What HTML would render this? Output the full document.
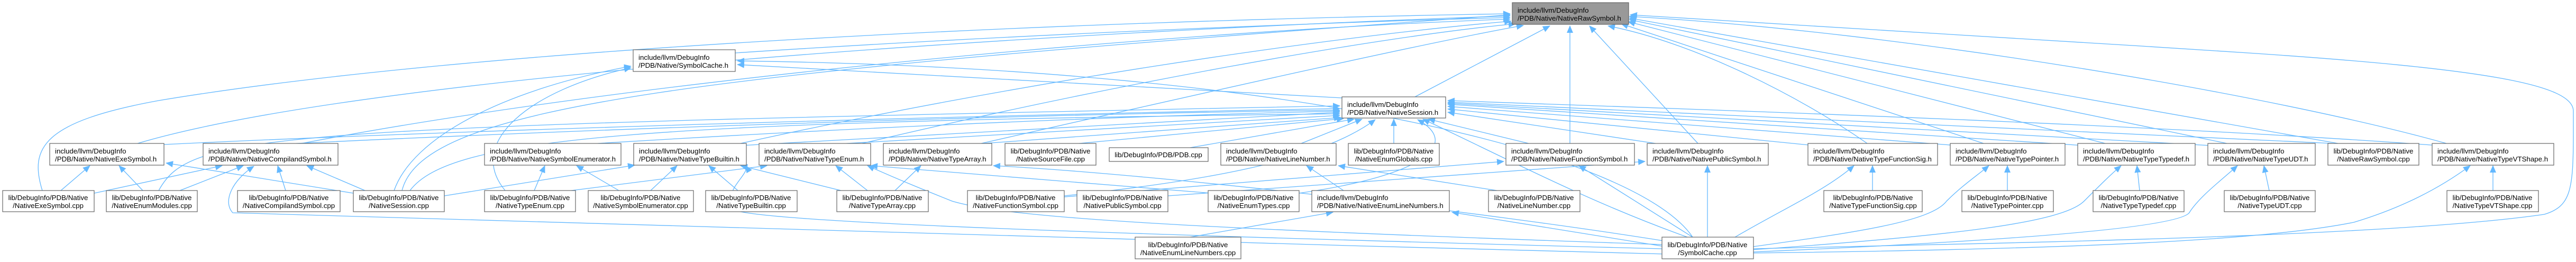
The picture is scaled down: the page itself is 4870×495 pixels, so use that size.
<!DOCTYPE html>
<html><head><meta charset="utf-8"><style>
html,body{margin:0;padding:0;background:#fff;}
svg{display:block;}
text{font-family:"Liberation Sans",Arial,sans-serif;font-size:13.3px;fill:#000;}
.n rect{fill:#fff;stroke:#666;stroke-width:1.2;}
.e{fill:none;stroke:#63b8ff;stroke-width:1.3;marker-end:url(#ah);}
</style></head><body>
<svg width="4870" height="495" viewBox="0 0 4870 495" xmlns="http://www.w3.org/2000/svg">
<defs><marker id="ah" markerUnits="userSpaceOnUse" markerWidth="14" markerHeight="12" refX="13" refY="6" orient="auto"><path d="M0,0 L14,6 L0,12 z" fill="#63b8ff"/></marker></defs>
<g>
<!-- to RawSymbol.h -->
<path class="e" d="M260 271 C700 140, 2000 60, 2855 30"/>
<path class="e" d="M80 360 C55 280, 80 230, 300 190 C900 90, 2000 40, 2855 26"/>
<path class="e" d="M570 271 C1200 150, 2200 60, 2855 36"/>
<path class="e" d="M1390 100 C2000 60, 2600 40, 2855 33"/>
<path class="e" d="M1400 271 C1900 160, 2500 70, 2857 40"/>
<path class="e" d="M1630 271 C2100 160, 2600 70, 2865 45"/>
<path class="e" d="M1855 271 C2300 170, 2700 80, 2880 48"/>
<path class="e" d="M2675 183 L2930 49"/>
<path class="e" d="M2968 271 L2968 49"/>
<path class="e" d="M3210 271 L3005 49"/>
<path class="e" d="M3530 271 C3400 180, 3200 80, 3040 49"/>
<path class="e" d="M3750 271 L3065 45"/>
<path class="e" d="M3980 271 L3078 41"/>
<path class="e" d="M4210 271 L3080 37"/>
<path class="e" d="M4420 271 L3080 34"/>
<path class="e" d="M4625 271 C4300 180, 3600 60, 3080 31"/>
<path class="e" d="M3315 470 C3700 460, 4500 450, 4810 405 C4860 390, 4865 360, 4865 250 L4865 210 C4865 160, 4700 130, 4250 100 C3800 70, 3300 45, 3082 28"/>
<path class="e" d="M760 360 C800 200, 1300 140, 2855 28"/>
<!-- to NativeSession.h -->
<path class="e" d="M310 273 C1000 240, 2000 215, 2533 205"/>
<path class="e" d="M560 271 C1200 240, 2000 215, 2533 208"/>
<path class="e" d="M300 360 C360 250, 500 240, 2533 200"/>
<path class="e" d="M775 360 C850 260, 1200 230, 2533 215"/>
<path class="e" d="M1130 271 C1800 230, 2300 215, 2533 210"/>
<path class="e" d="M1400 275 L2533 212"/>
<path class="e" d="M1600 271 L2533 218"/>
<path class="e" d="M1860 271 L2535 222"/>
<path class="e" d="M2040 271 L2540 224"/>
<path class="e" d="M2250 279 L2560 225"/>
<path class="e" d="M2460 271 L2575 225"/>
<path class="e" d="M2635 271 L2635 225"/>
<path class="e" d="M2890 271 L2700 225"/>
<path class="e" d="M3130 271 L2737 212"/>
<path class="e" d="M3430 275 L2737 206"/>
<path class="e" d="M3700 275 L2737 201"/>
<path class="e" d="M3940 275 L2737 197"/>
<path class="e" d="M4180 275 L2737 195"/>
<path class="e" d="M4410 271 L2737 193"/>
<path class="e" d="M4610 275 C4000 230, 3000 200, 2737 190"/>
<path class="e" d="M3190 448 C3000 380, 2850 300, 2690 225"/>
<path class="e" d="M2456 365 C2700 330, 2760 270, 2680 226"/>
<path class="e" d="M2012 370 C2300 340, 2500 300, 2600 226"/>
<!-- to SymbolCache.h -->
<path class="e" d="M745 360 C780 260, 950 170, 1193 125"/>
<path class="e" d="M955 360 C880 270, 1000 170, 1193 128"/>
<path class="e" d="M2537 185 L1394 122"/>
<path class="e" d="M3200 448 C3100 300, 2500 130, 1394 115"/>
<!-- lower -->
<path class="e" d="M115 360 L170 313"/>
<path class="e" d="M270 360 L225 313"/>
<path class="e" d="M178 365 L420 313"/>
<path class="e" d="M340 360 L460 313"/>
<path class="e" d="M540 360 L525 313"/>
<path class="e" d="M690 360 L580 313"/>
<path class="e" d="M668 365 L314 308"/>
<path class="e" d="M3150 480 C2000 450, 600 410, 440 402 C420 380, 440 340, 480 314"/>
<path class="e" d="M1010 360 L1030 313"/>
<path class="e" d="M1170 360 L1090 313"/>
<path class="e" d="M1230 360 L1280 313"/>
<path class="e" d="M1395 360 L1340 313"/>
<path class="e" d="M840 370 L1200 312"/>
<path class="e" d="M1590 360 L1400 313"/>
<path class="e" d="M3142 470 C2000 440, 1500 420, 1400 400 C1350 370, 1420 330, 1410 313"/>
<path class="e" d="M1640 360 L1580 313"/>
<path class="e" d="M1080 360 L1450 313"/>
<path class="e" d="M2290 365 L1646 313"/>
<path class="e" d="M3142 462 C2200 430, 1900 410, 1800 380 C1750 360, 1700 340, 1640 313"/>
<path class="e" d="M1692 360 L1741 313"/>
<path class="e" d="M3145 455 C2800 400, 2200 330, 1878 313"/>
<path class="e" d="M2540 360 L2470 313"/>
<path class="e" d="M2830 360 L2530 313"/>
<path class="e" d="M2250 448 L2520 401"/>
<path class="e" d="M3142 465 L2745 401"/>
<path class="e" d="M2012 372 L2843 305"/>
<path class="e" d="M3200 448 L2985 313"/>
<path class="e" d="M2208 370 L3110 305"/>
<path class="e" d="M3228 448 L3228 313"/>
<path class="e" d="M3540 360 L3540 313"/>
<path class="e" d="M3280 448 C3380 390, 3450 360, 3505 313"/>
<path class="e" d="M3795 360 L3795 313"/>
<path class="e" d="M3300 468 C3500 440, 3650 420, 3680 380 C3710 350, 3740 330, 3760 313"/>
<path class="e" d="M4045 360 L4040 313"/>
<path class="e" d="M3310 472 C3700 445, 3900 420, 3940 380 C3970 350, 3990 330, 4010 313"/>
<path class="e" d="M4290 360 L4280 313"/>
<path class="e" d="M3315 476 C3800 455, 4130 430, 4140 400 C4160 370, 4200 340, 4230 313"/>
<path class="e" d="M4713 360 L4713 313"/>
<path class="e" d="M3315 478 C4000 470, 4300 450, 4450 420 C4550 390, 4620 350, 4670 313"/>
</g>
<g class="n">
<rect x="2859" y="5" width="220" height="41" style="fill:#999"/>
<text x="2869" y="24">include/llvm/DebugInfo</text><text x="2869" y="39">/PDB/Native/NativeRawSymbol.h</text>

<rect x="1197" y="94" width="193" height="41"/>
<text x="1207" y="113">include/llvm/DebugInfo</text><text x="1207" y="128">/PDB/Native/SymbolCache.h</text>

<rect x="2537" y="183" width="196" height="40"/>
<text x="2547" y="202">include/llvm/DebugInfo</text><text x="2547" y="217">/PDB/Native/NativeSession.h</text>

<rect x="94" y="271" width="216" height="41"/>
<text x="104" y="290">include/llvm/DebugInfo</text><text x="104" y="305">/PDB/Native/NativeExeSymbol.h</text>
<rect x="384" y="271" width="255" height="41"/>
<text x="394" y="290">include/llvm/DebugInfo</text><text x="394" y="305">/PDB/Native/NativeCompilandSymbol.h</text>
<rect x="916" y="271" width="258" height="41"/>
<text x="926" y="290">include/llvm/DebugInfo</text><text x="926" y="305">/PDB/Native/NativeSymbolEnumerator.h</text>
<rect x="1198" y="271" width="213" height="41"/>
<text x="1208" y="290">include/llvm/DebugInfo</text><text x="1208" y="305">/PDB/Native/NativeTypeBuiltin.h</text>
<rect x="1435" y="271" width="211" height="41"/>
<text x="1445" y="290">include/llvm/DebugInfo</text><text x="1445" y="305">/PDB/Native/NativeTypeEnum.h</text>
<rect x="1670" y="271" width="205" height="41"/>
<text x="1680" y="290">include/llvm/DebugInfo</text><text x="1680" y="305">/PDB/Native/NativeTypeArray.h</text>
<rect x="1900" y="271" width="172" height="41"/>
<text x="1986" y="290" text-anchor="middle">lib/DebugInfo/PDB/Native</text><text x="1986" y="305" text-anchor="middle">/NativeSourceFile.cpp</text>
<rect x="2097" y="279" width="187" height="26"/>
<text x="2190" y="297" text-anchor="middle">lib/DebugInfo/PDB/PDB.cpp</text>
<rect x="2308" y="271" width="218" height="41"/>
<text x="2318" y="290">include/llvm/DebugInfo</text><text x="2318" y="305">/PDB/Native/NativeLineNumber.h</text>
<rect x="2549" y="271" width="172" height="41"/>
<text x="2635" y="290" text-anchor="middle">lib/DebugInfo/PDB/Native</text><text x="2635" y="305" text-anchor="middle">/NativeEnumGlobals.cpp</text>
<rect x="2847" y="271" width="243" height="41"/>
<text x="2857" y="290">include/llvm/DebugInfo</text><text x="2857" y="305">/PDB/Native/NativeFunctionSymbol.h</text>
<rect x="3114" y="271" width="229" height="41"/>
<text x="3124" y="290">include/llvm/DebugInfo</text><text x="3124" y="305">/PDB/Native/NativePublicSymbol.h</text>
<rect x="3418" y="271" width="245" height="41"/>
<text x="3428" y="290">include/llvm/DebugInfo</text><text x="3428" y="305">/PDB/Native/NativeTypeFunctionSig.h</text>
<rect x="3687" y="271" width="217" height="41"/>
<text x="3697" y="290">include/llvm/DebugInfo</text><text x="3697" y="305">/PDB/Native/NativeTypePointer.h</text>
<rect x="3928" y="271" width="222" height="41"/>
<text x="3938" y="290">include/llvm/DebugInfo</text><text x="3938" y="305">/PDB/Native/NativeTypeTypedef.h</text>
<rect x="4174" y="271" width="203" height="41"/>
<text x="4184" y="290">include/llvm/DebugInfo</text><text x="4184" y="305">/PDB/Native/NativeTypeUDT.h</text>
<rect x="4401" y="271" width="172" height="41"/>
<text x="4487" y="290" text-anchor="middle">lib/DebugInfo/PDB/Native</text><text x="4487" y="305" text-anchor="middle">/NativeRawSymbol.cpp</text>
<rect x="4598" y="271" width="230" height="41"/>
<text x="4608" y="290">include/llvm/DebugInfo</text><text x="4608" y="305">/PDB/Native/NativeTypeVTShape.h</text>

<rect x="5" y="360" width="173" height="40"/>
<text x="91" y="378" text-anchor="middle">lib/DebugInfo/PDB/Native</text><text x="91" y="393" text-anchor="middle">/NativeExeSymbol.cpp</text>
<rect x="201" y="360" width="172" height="40"/>
<text x="287" y="378" text-anchor="middle">lib/DebugInfo/PDB/Native</text><text x="287" y="393" text-anchor="middle">/NativeEnumModules.cpp</text>
<rect x="449" y="360" width="194" height="40"/>
<text x="546" y="378" text-anchor="middle">lib/DebugInfo/PDB/Native</text><text x="546" y="393" text-anchor="middle">/NativeCompilandSymbol.cpp</text>
<rect x="668" y="360" width="172" height="40"/>
<text x="754" y="378" text-anchor="middle">lib/DebugInfo/PDB/Native</text><text x="754" y="393" text-anchor="middle">/NativeSession.cpp</text>
<rect x="916" y="360" width="172" height="40"/>
<text x="1002" y="378" text-anchor="middle">lib/DebugInfo/PDB/Native</text><text x="1002" y="393" text-anchor="middle">/NativeTypeEnum.cpp</text>
<rect x="1112" y="360" width="199" height="40"/>
<text x="1211" y="378" text-anchor="middle">lib/DebugInfo/PDB/Native</text><text x="1211" y="393" text-anchor="middle">/NativeSymbolEnumerator.cpp</text>
<rect x="1334" y="360" width="173" height="40"/>
<text x="1420" y="378" text-anchor="middle">lib/DebugInfo/PDB/Native</text><text x="1420" y="393" text-anchor="middle">/NativeTypeBuiltin.cpp</text>
<rect x="1582" y="360" width="173" height="40"/>
<text x="1668" y="378" text-anchor="middle">lib/DebugInfo/PDB/Native</text><text x="1668" y="393" text-anchor="middle">/NativeTypeArray.cpp</text>
<rect x="1829" y="360" width="183" height="40"/>
<text x="1920" y="378" text-anchor="middle">lib/DebugInfo/PDB/Native</text><text x="1920" y="393" text-anchor="middle">/NativeFunctionSymbol.cpp</text>
<rect x="2036" y="360" width="172" height="40"/>
<text x="2122" y="378" text-anchor="middle">lib/DebugInfo/PDB/Native</text><text x="2122" y="393" text-anchor="middle">/NativePublicSymbol.cpp</text>
<rect x="2284" y="360" width="172" height="40"/>
<text x="2370" y="378" text-anchor="middle">lib/DebugInfo/PDB/Native</text><text x="2370" y="393" text-anchor="middle">/NativeEnumTypes.cpp</text>
<rect x="2480" y="360" width="260" height="40"/>
<text x="2490" y="378">include/llvm/DebugInfo</text><text x="2490" y="393">/PDB/Native/NativeEnumLineNumbers.h</text>
<rect x="2814" y="360" width="173" height="40"/>
<text x="2900" y="378" text-anchor="middle">lib/DebugInfo/PDB/Native</text><text x="2900" y="393" text-anchor="middle">/NativeLineNumber.cpp</text>
<rect x="3448" y="360" width="186" height="40"/>
<text x="3541" y="378" text-anchor="middle">lib/DebugInfo/PDB/Native</text><text x="3541" y="393" text-anchor="middle">/NativeTypeFunctionSig.cpp</text>
<rect x="3709" y="360" width="173" height="40"/>
<text x="3795" y="378" text-anchor="middle">lib/DebugInfo/PDB/Native</text><text x="3795" y="393" text-anchor="middle">/NativeTypePointer.cpp</text>
<rect x="3957" y="360" width="172" height="40"/>
<text x="4043" y="378" text-anchor="middle">lib/DebugInfo/PDB/Native</text><text x="4043" y="393" text-anchor="middle">/NativeTypeTypedef.cpp</text>
<rect x="4205" y="360" width="172" height="40"/>
<text x="4291" y="378" text-anchor="middle">lib/DebugInfo/PDB/Native</text><text x="4291" y="393" text-anchor="middle">/NativeTypeUDT.cpp</text>
<rect x="4626" y="360" width="173" height="40"/>
<text x="4712" y="378" text-anchor="middle">lib/DebugInfo/PDB/Native</text><text x="4712" y="393" text-anchor="middle">/NativeTypeVTShape.cpp</text>

<rect x="2146" y="448" width="200" height="41"/>
<text x="2246" y="467" text-anchor="middle">lib/DebugInfo/PDB/Native</text><text x="2246" y="482" text-anchor="middle">/NativeEnumLineNumbers.cpp</text>
<rect x="3142" y="448" width="173" height="41"/>
<text x="3228" y="467" text-anchor="middle">lib/DebugInfo/PDB/Native</text><text x="3228" y="482" text-anchor="middle">/SymbolCache.cpp</text>
</g>
</svg>
</body></html>
